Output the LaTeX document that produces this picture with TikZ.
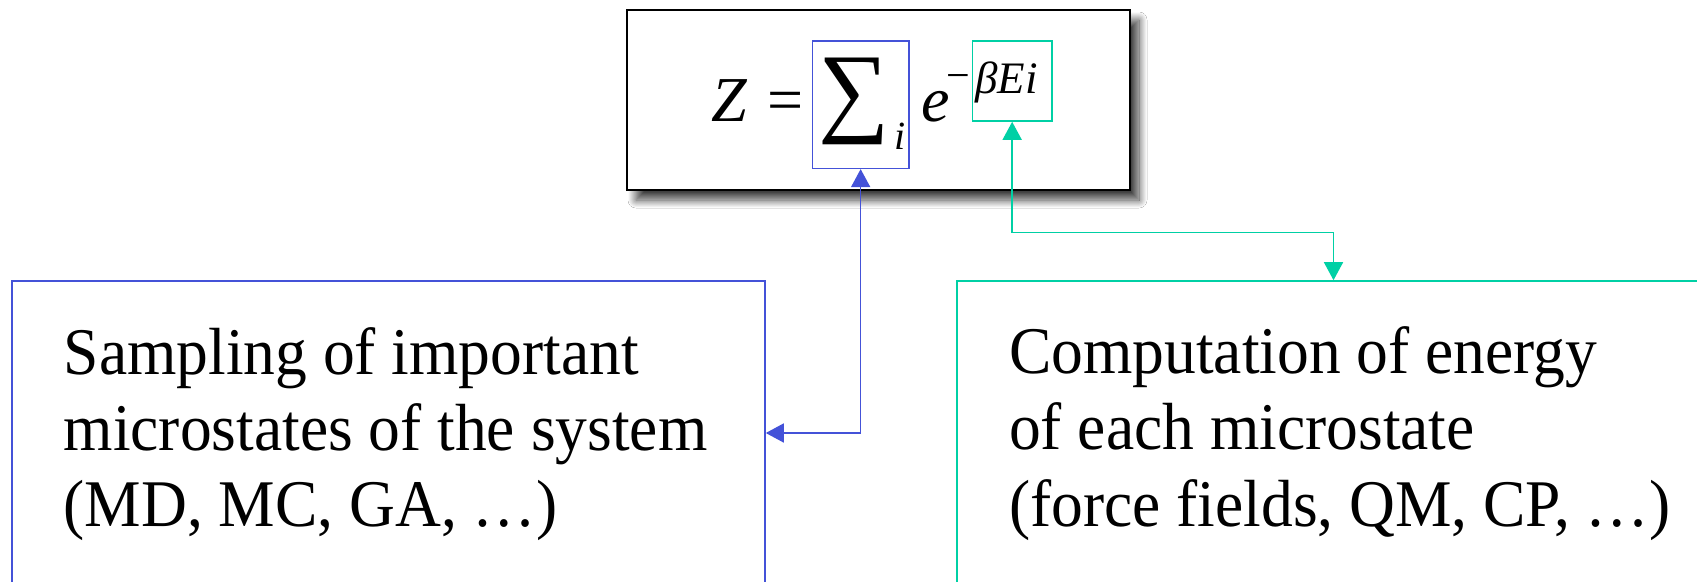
\documentclass[tikz,border=0pt]{standalone}
\usepackage{fontspec}
\setmainfont{Liberation Serif}
\usetikzlibrary{arrows.meta,shadows.blur}
\definecolor{bluec}{RGB}{68,82,216}
\definecolor{tealc}{RGB}{0,208,165}
\begin{document}
\begin{tikzpicture}[x=1pt,y=-1pt,
  bigtxt/.style={font=\fontsize{63.5}{76}\selectfont, inner sep=0pt, anchor=base west, yscale=1.05, transform shape},
  mathbig/.style={font=\fontsize{64}{76}\selectfont\itshape, inner sep=0pt, anchor=base west},
  mathsmall/.style={font=\fontsize{40}{46}\selectfont\itshape, inner sep=0pt, anchor=base west},
  thinbox/.style={draw, line width=1.6pt, inner sep=0pt},
  bconn/.style={draw=bluec, line width=1.6pt, {Triangle[length=18pt,width=19pt]}-{Triangle[length=18pt,width=19pt]}},
  tconn/.style={draw=tealc, line width=1.6pt, {Triangle[length=18pt,width=19pt]}-{Triangle[length=18pt,width=19pt]}}
]
\useasboundingbox (0,0) rectangle (1697,581);
\clip (0,0) rectangle (1697,581);
\fill[white] (0,0) rectangle (1697,581);

% top formula box
\node[draw=black, line width=2.5pt, fill=white, inner sep=0pt,
      minimum width=503pt, minimum height=180pt,
      blur shadow={shadow xshift=9pt, shadow yshift=-10pt, shadow blur radius=8pt, shadow blur steps=16, shadow opacity=75}]
      (top) at (878.5,100) {};

\node[thinbox, draw=bluec, minimum width=96.7pt, minimum height=127.3pt] (sigbox) at (860.65,104.65) {};
\node[thinbox, draw=tealc, minimum width=79.7pt, minimum height=80pt] (expbox) at (1012.15,81) {};

% formula
\node[mathbig] (zz) at (711,121) {Z};
\node[inner sep=0pt, anchor=base west, font=\fontsize{64}{76}\selectfont] (eq) at (767,121) {=};
\node[inner sep=0pt, font=\fontsize{100}{104}\selectfont] (sig) at (854.5,101) {∑};
\node[mathsmall] (isub) at (894,149) {i};
\node[mathbig] (ee) at (921,121.5) {e};
\node[inner sep=0pt, anchor=base west, font=\fontsize{42}{46}\selectfont] (minus) at (946,89) {−};
\node[mathsmall, font=\fontsize{45}{50}\selectfont\itshape] (bei) at (975,93) {βEi};

% lower boxes
\node[thinbox, draw=bluec, minimum width=753pt, minimum height=304pt] (leftbox) at (388.5,433) {};
\node[thinbox, draw=tealc, minimum width=753pt, minimum height=304pt] (rightbox) at (1333.5,433) {};

\node[bigtxt] (l1) at (63.5,374) {Sampling of important};
\node[bigtxt] (l2) at (63.5,450) {microstates of the system};
\node[bigtxt] (l3) at (63.5,526) {(MD, MC, GA, …)};

\node[bigtxt] (r1) at (1009,373) {Computation of energy};
\node[bigtxt] (r2) at (1009,449) {of each microstate};
\node[bigtxt] (r3) at (1009,526) {(force fields, QM, CP, …)};

% connectors
\draw[bconn] (leftbox.east) -| (sigbox.south);
\draw[tconn] (expbox.south) -- ++(0,110.7) -| (rightbox.north);
\end{tikzpicture}
\end{document}
